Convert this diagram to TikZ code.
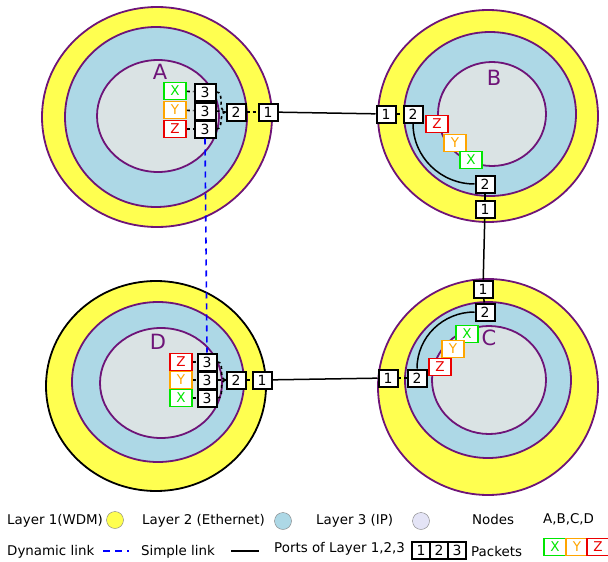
\documentclass[tikz,border=0pt]{standalone}
\usepackage{fontspec}
\setmainfont{DejaVu Sans}
\definecolor{wdm}{RGB}{255,255,80}
\definecolor{eth}{RGB}{173,216,230}
\definecolor{ipc}{RGB}{218,227,228}
\definecolor{lav}{RGB}{228,228,246}
\definecolor{pur}{RGB}{110,20,120}
\definecolor{pgreen}{RGB}{0,230,0}
\definecolor{porange}{RGB}{255,165,0}
\definecolor{pred}{RGB}{235,0,0}
\tikzset{
  ring/.style={draw=pur, line width=1.8pt},
  port/.style={draw=black, line width=2pt, fill=white, minimum width=19pt, minimum height=17pt, inner sep=0pt, font=\fontsize{14}{14}\selectfont},
  pkt/.style={draw=#1, text=#1, line width=1.6pt, fill=white, minimum width=22pt, minimum height=17pt, inner sep=0pt, font=\fontsize{13.5}{13.5}\selectfont},
  nlabel/.style={text=pur, font=\fontsize{21}{21}\selectfont},
  dotl/.style={dash pattern=on 3pt off 3pt, line width=1.6pt},
  simple/.style={line width=1.5pt},
  dyn/.style={blue, dash pattern=on 6pt off 5pt, line width=1.6pt},
  leg/.style={font=\fontsize{13.4}{13.4}\selectfont, anchor=west, inner sep=0pt},
}
\begin{document}
\begin{tikzpicture}[x=1pt,y=-1pt]
\useasboundingbox (0,0) rectangle (608,562);
% node A
\draw[ring, fill=wdm] (157,117) ellipse [x radius=115, y radius=110];
\draw[ring, fill=eth] (156,117) ellipse [x radius=91, y radius=90];
\draw[ring, fill=ipc] (158,116) ellipse [x radius=61, y radius=56];
% node B
\draw[ring, fill=wdm] (488,116) ellipse [x radius=110, y radius=106];
\draw[ring, fill=eth] (490,114) ellipse [x radius=86, y radius=82];
\draw[ring, fill=ipc] (492,114) ellipse [x radius=54, y radius=52];
% node D
\draw[line width=1.8pt, fill=wdm] (156,386) ellipse [x radius=110, y radius=105];
\draw[ring, fill=eth] (158,382) ellipse [x radius=86, y radius=80];
\draw[ring, fill=ipc] (161,383) ellipse [x radius=61, y radius=55];
% node C
\draw[ring, fill=wdm] (488,387) ellipse [x radius=110, y radius=108];
\draw[ring, fill=eth] (488,380) ellipse [x radius=83, y radius=78];
\draw[ring, fill=ipc] (489,380) ellipse [x radius=57, y radius=54];
% labels
\node[nlabel] (lA) at (160,72) {A};
\node[nlabel] (lB) at (494,78) {B};
\node[nlabel] (lD) at (158,342) {D};
\node[nlabel] (lC) at (489,338) {C};
% A ports
\node[pkt=pgreen] (AX) at (175,91) {X};
\node[pkt=porange] (AY) at (175,110) {Y};
\node[pkt=pred] (AZ) at (175,129) {Z};
\node[port, minimum width=21pt] (A3a) at (205,92) {3};
\node[port, minimum width=21pt] (A3b) at (205,111) {3};
\node[port, minimum width=21pt] (A3c) at (205,129) {3};
\node[port] (A2) at (236,112) {2};
\node[port] (A1) at (268,112) {1};
\draw[dotl] (AX) -- (A3a); \draw[dotl] (AY) -- (A3b); \draw[dotl] (AZ) -- (A3c);
\draw[dotl] (A3a.east) to[out=0,in=170] (A2.west);
\draw[dotl] (A3b.east) -- (A2.west);
\draw[dotl] (A3c.east) to[out=0,in=190] (A2.west);
\draw[dotl] (A2) -- (A1);
% B ports
\node[port] (B1a) at (386,114) {1};
\node[port] (B2a) at (413,114) {2};
\node[pkt=pred] (BZ) at (437,124) {Z};
\node[pkt=porange] (BY) at (455,143) {Y};
\node[pkt=pgreen] (BX) at (471,160) {X};
\node[port] (B2b) at (485,184) {2};
\node[port] (B1b) at (485,209) {1};
\draw[dotl] (B1a) -- (B2a);
\draw[simple] (B2a.south) to[out=-90,in=180] (B2b.west);
\draw[simple] (B2b) -- (B1b);
% C ports
\node[port] (C1a) at (483,289) {1};
\node[port] (C2a) at (485,312) {2};
\node[pkt=pgreen] (CX) at (467,334) {X};
\node[pkt=porange] (CY) at (453,349) {Y};
\node[pkt=pred] (CZ) at (440,367) {Z};
\node[port] (C2b) at (417,378) {2};
\node[port] (C1b) at (388,378) {1};
\draw[simple] (C1a) -- (C2a);
\draw[simple] (C2a.west) to[out=180,in=90] (C2b.north);
\draw[dotl] (C2b) -- (C1b);
% D ports
\node[pkt=pred] (DZ) at (181,362) {Z};
\node[pkt=porange] (DY) at (181,380) {Y};
\node[pkt=pgreen] (DX) at (181,398) {X};
\node[port] (D3a) at (207,362) {3};
\node[port] (D3b) at (207,380) {3};
\node[port] (D3c) at (207,398) {3};
\node[port] (D2) at (236,380) {2};
\node[port] (D1) at (262,380) {1};
\draw[dotl] (DZ) -- (D3a); \draw[dotl] (DY) -- (D3b); \draw[dotl] (DX) -- (D3c);
\draw[dotl] (D3a.east) to[out=0,in=170] (D2.west);
\draw[dotl] (D3b.east) -- (D2.west);
\draw[dotl] (D3c.east) to[out=0,in=190] (D2.west);
\draw[dotl] (D2) -- (D1);
% links
\draw[simple] (A1) -- (B1a);
\draw[simple] (B1b) -- (C1a);
\draw[simple] (C1b) -- (D1);
\draw[dyn] (A3c.south) -- (D3a.north);
% legend row 1
\node[leg] (t1) at (7,521) {Layer 1(WDM)};
\node[circle, draw=gray, fill=wdm, minimum size=17pt, inner sep=0pt] (c1) at (115,520) {};
\node[leg] (t2) at (142,521) {Layer 2 (Ethernet)};
\node[circle, draw=gray, fill=eth, minimum size=17pt, inner sep=0pt] (c2) at (283,521) {};
\node[leg] (t3) at (316,521) {Layer 3 (IP)};
\node[circle, draw=gray, fill=lav, minimum size=17pt, inner sep=0pt] (c3) at (421,521) {};
\node[leg] (t4) at (472,519) {Nodes};
\node[leg] (t5) at (543,519) {A,B,C,D};
% legend row 2
\node[leg] (t6) at (7,552) {Dynamic link};
\coordinate (d1) at (103,551); \coordinate (d2) at (129,551);
\draw[dyn, dash pattern=on 7pt off 5pt] (d1) -- (d2);
\node[leg] (t7) at (141,552) {Simple link};
\coordinate (s1) at (231,551); \coordinate (s2) at (259,551);
\draw[simple] (s1) -- (s2);
\node[leg] (t8) at (274,549) {Ports of Layer 1,2,3};
\node[port, minimum width=18pt] (L1) at (421,550) {1};
\node[port, minimum width=18pt] (L2) at (439,550) {2};
\node[port, minimum width=18pt] (L3) at (457,550) {3};
\node[leg] (t9) at (471,551) {Packets};
\node[pkt=pgreen, minimum width=22pt] (LX) at (555,547) {X};
\node[pkt=porange, minimum width=22pt] (LY) at (577,547) {Y};
\node[pkt=pred, minimum width=22pt] (LZ) at (598,547) {Z};
\end{tikzpicture}
\end{document}
